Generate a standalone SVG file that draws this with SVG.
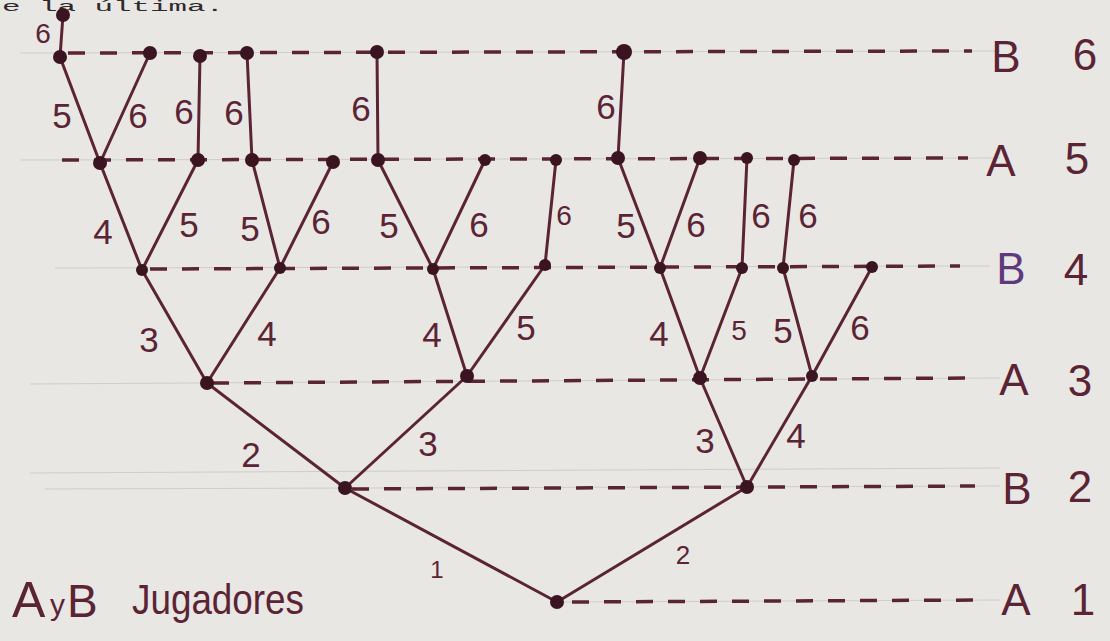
<svg xmlns="http://www.w3.org/2000/svg" width="1110" height="641" viewBox="0 0 1110 641">
<defs>
<style>
.bg{fill:#e8e7e4}
.pencil{stroke:#cfcdcb;stroke-width:1;fill:none}
.dash{stroke:#5b2434;stroke-width:3.5;stroke-dasharray:17 15;fill:none}
.edge{stroke:#5b2434;stroke-width:3;fill:none;stroke-linecap:round}
.dot{fill:#3a1420}
.el{font-family:"Liberation Sans",Arial,sans-serif;font-size:35px;fill:#5b2434;text-anchor:middle}
.lvl{font-family:"Liberation Sans",Arial,sans-serif;font-size:44px;fill:#5b2434;text-anchor:middle}
.lvlp{fill:#5e3a7c}
.type{font-family:"Liberation Mono","Courier New",monospace;font-size:14px;fill:#2e2a2c}
.hand{font-family:"Liberation Sans",Arial,sans-serif;fill:#5b2434}
</style>
</defs>
<rect class="bg" x="0" y="0" width="1110" height="641"/>
<text class="type" x="2" y="11" textLength="222" lengthAdjust="spacingAndGlyphs">e la última.</text>

<g id="guides">
<line class="pencil" x1="20" y1="53" x2="1000" y2="51"/>
<line class="pencil" x1="20" y1="160" x2="1000" y2="158"/>
<line class="pencil" x1="55" y1="268" x2="990" y2="266"/>
<line class="pencil" x1="30" y1="384" x2="1000" y2="378"/>
<line class="pencil" x1="30" y1="473" x2="1000" y2="468"/>
<line class="pencil" x1="45" y1="489" x2="1000" y2="486"/>
<line class="pencil" x1="560" y1="602" x2="1000" y2="600"/>
<line class="dash" x1="68" y1="53" x2="972" y2="51"/>
<line class="dash" x1="62" y1="160" x2="968" y2="158"/>
<line class="dash" x1="150" y1="269" x2="960" y2="266"/>
<line class="dash" x1="212" y1="383" x2="970" y2="378"/>
<line class="dash" x1="352" y1="489" x2="975" y2="486"/>
<line class="dash" x1="572" y1="602" x2="985" y2="600"/>
</g>

<g id="connectors">
<line class="edge" x1="557" y1="602" x2="345" y2="488"/>
<line class="edge" x1="557" y1="602" x2="747" y2="487"/>
<line class="edge" x1="345" y1="488" x2="207" y2="383"/>
<line class="edge" x1="345" y1="488" x2="467" y2="376"/>
<line class="edge" x1="747" y1="487" x2="700" y2="378"/>
<line class="edge" x1="747" y1="487" x2="812" y2="376"/>
<line class="edge" x1="207" y1="383" x2="142" y2="270"/>
<line class="edge" x1="207" y1="383" x2="280" y2="268"/>
<line class="edge" x1="467" y1="376" x2="433" y2="269"/>
<line class="edge" x1="467" y1="376" x2="545" y2="265"/>
<line class="edge" x1="700" y1="378" x2="660" y2="268"/>
<line class="edge" x1="700" y1="378" x2="742" y2="268"/>
<line class="edge" x1="812" y1="376" x2="783" y2="268"/>
<line class="edge" x1="812" y1="376" x2="872" y2="267"/>
<line class="edge" x1="142" y1="270" x2="100" y2="163"/>
<line class="edge" x1="142" y1="270" x2="198" y2="160"/>
<line class="edge" x1="280" y1="268" x2="252" y2="160"/>
<line class="edge" x1="280" y1="268" x2="333" y2="162"/>
<line class="edge" x1="433" y1="269" x2="378" y2="160"/>
<line class="edge" x1="433" y1="269" x2="485" y2="160"/>
<line class="edge" x1="545" y1="265" x2="556" y2="160"/>
<line class="edge" x1="660" y1="268" x2="618" y2="158"/>
<line class="edge" x1="660" y1="268" x2="700" y2="158"/>
<line class="edge" x1="742" y1="268" x2="747" y2="158"/>
<line class="edge" x1="783" y1="268" x2="794" y2="160"/>
<line class="edge" x1="100" y1="163" x2="60" y2="57"/>
<line class="edge" x1="100" y1="163" x2="150" y2="53"/>
<line class="edge" x1="198" y1="160" x2="200" y2="56"/>
<line class="edge" x1="252" y1="160" x2="247" y2="53"/>
<line class="edge" x1="378" y1="160" x2="377" y2="52"/>
<line class="edge" x1="618" y1="158" x2="624" y2="52"/>
<line class="edge" x1="60" y1="57" x2="63" y2="15"/>
<text class="el" x="437" y="578" style="font-size:24px">1</text>
<text class="el" x="683" y="564" style="font-size:26px">2</text>
<text class="el" x="251" y="467">2</text>
<text class="el" x="428" y="456">3</text>
<text class="el" x="705" y="453">3</text>
<text class="el" x="796" y="448">4</text>
<text class="el" x="149" y="352">3</text>
<text class="el" x="267" y="346">4</text>
<text class="el" x="432" y="347">4</text>
<text class="el" x="526" y="340">5</text>
<text class="el" x="659" y="346">4</text>
<text class="el" x="739" y="340" style="font-size:28px">5</text>
<text class="el" x="783" y="343">5</text>
<text class="el" x="860" y="340">6</text>
<text class="el" x="103" y="244">4</text>
<text class="el" x="189" y="237">5</text>
<text class="el" x="250" y="241">5</text>
<text class="el" x="321" y="234">6</text>
<text class="el" x="389" y="238">5</text>
<text class="el" x="479" y="237">6</text>
<text class="el" x="564" y="225" style="font-size:28px">6</text>
<text class="el" x="626" y="238">5</text>
<text class="el" x="696" y="237">6</text>
<text class="el" x="761" y="228">6</text>
<text class="el" x="808" y="228">6</text>
<text class="el" x="62" y="128">5</text>
<text class="el" x="138" y="128">6</text>
<text class="el" x="184" y="124">6</text>
<text class="el" x="234" y="125">6</text>
<text class="el" x="361" y="121">6</text>
<text class="el" x="606" y="119">6</text>
<text class="el" x="43" y="43" style="font-size:28px">6</text>
</g>

<g id="n-root"><circle class="dot" cx="557" cy="602" r="7"/></g>
<g id="n-2a"><circle class="dot" cx="345" cy="488" r="7"/></g>
<g id="n-2b"><circle class="dot" cx="747" cy="487" r="7"/></g>
<g id="n-3a"><circle class="dot" cx="207" cy="383" r="7"/></g>
<g id="n-3b"><circle class="dot" cx="467" cy="376" r="7"/></g>
<g id="n-3c"><circle class="dot" cx="700" cy="378" r="7"/></g>
<g id="n-3d"><circle class="dot" cx="812" cy="376" r="6"/></g>
<g id="n-4a"><circle class="dot" cx="142" cy="270" r="6"/></g>
<g id="n-4b"><circle class="dot" cx="280" cy="268" r="6"/></g>
<g id="n-4c"><circle class="dot" cx="433" cy="269" r="6"/></g>
<g id="n-4d"><circle class="dot" cx="545" cy="265" r="6"/></g>
<g id="n-4e"><circle class="dot" cx="660" cy="268" r="6"/></g>
<g id="n-4f"><circle class="dot" cx="742" cy="268" r="6"/></g>
<g id="n-4g"><circle class="dot" cx="783" cy="268" r="6"/></g>
<g id="n-4h"><circle class="dot" cx="872" cy="267" r="6"/></g>
<g id="n-5a"><circle class="dot" cx="100" cy="163" r="7"/></g>
<g id="n-5b"><circle class="dot" cx="198" cy="160" r="7"/></g>
<g id="n-5c"><circle class="dot" cx="252" cy="160" r="7"/></g>
<g id="n-5d"><circle class="dot" cx="333" cy="162" r="7"/></g>
<g id="n-5e"><circle class="dot" cx="378" cy="160" r="7"/></g>
<g id="n-5f"><circle class="dot" cx="485" cy="160" r="6"/></g>
<g id="n-5g"><circle class="dot" cx="556" cy="160" r="6"/></g>
<g id="n-5h"><circle class="dot" cx="618" cy="158" r="7"/></g>
<g id="n-5i"><circle class="dot" cx="700" cy="158" r="7"/></g>
<g id="n-5j"><circle class="dot" cx="747" cy="158" r="6"/></g>
<g id="n-5k"><circle class="dot" cx="794" cy="160" r="6"/></g>
<g id="n-6a"><circle class="dot" cx="60" cy="57" r="7"/></g>
<g id="n-6b"><circle class="dot" cx="150" cy="53" r="7"/></g>
<g id="n-6c"><circle class="dot" cx="200" cy="56" r="7"/></g>
<g id="n-6d"><circle class="dot" cx="247" cy="53" r="7"/></g>
<g id="n-6e"><circle class="dot" cx="377" cy="52" r="7"/></g>
<g id="n-6f"><circle class="dot" cx="624" cy="52" r="8"/></g>
<g id="n-7a"><circle class="dot" cx="63" cy="15" r="7"/></g>

<g id="levels">
<text class="lvl" x="1006" y="72">B</text>
<text class="lvl" x="1085" y="70">6</text>
<text class="lvl" x="1001" y="176">A</text>
<text class="lvl" x="1077" y="174">5</text>
<text class="lvl lvlp" x="1011" y="284">B</text>
<text class="lvl" x="1076" y="285">4</text>
<text class="lvl" x="1014" y="395">A</text>
<text class="lvl" x="1080" y="396">3</text>
<text class="lvl" x="1017" y="504">B</text>
<text class="lvl" x="1080" y="502">2</text>
<text class="lvl" x="1016" y="615">A</text>
<text class="lvl" x="1083" y="615">1</text>
</g>

<g id="legend">
<text class="hand" x="12" y="617" style="font-size:50px">A</text>
<text class="hand" x="50" y="615" style="font-size:30px">y</text>
<text class="hand" x="67" y="617" style="font-size:46px">B</text>
<text class="hand" x="132" y="614" style="font-size:42px" textLength="172" lengthAdjust="spacingAndGlyphs">Jugadores</text>
</g>
</svg>
